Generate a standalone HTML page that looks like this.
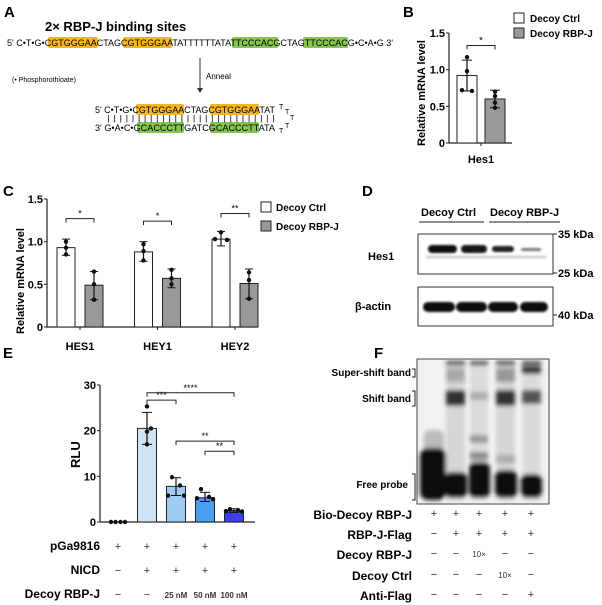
<!DOCTYPE html>
<html><head><meta charset="utf-8"><style>
html,body{margin:0;padding:0;background:#fff;}
svg{display:block;font-family:"Liberation Sans",Arial,sans-serif;}
.b{font-weight:bold;}
</style></head><body>
<svg id="fig" width="602" height="605" viewBox="0 0 602 605" xmlns="http://www.w3.org/2000/svg">
<defs>
<filter id="blur2" x="-50%" y="-50%" width="200%" height="200%"><feGaussianBlur stdDeviation="2"/></filter>
<filter id="blur1" x="-50%" y="-50%" width="200%" height="200%"><feGaussianBlur stdDeviation="1"/></filter>
</defs>

<!-- Panel A -->
<g>
<text x="4" y="17" font-size="15" class="b">A</text>
<text x="45" y="31" font-size="13" class="b">2× RBP-J binding sites</text>
<rect x="48" y="37" width="50" height="11" rx="2" fill="#f7b51e"/>
<rect x="123" y="37" width="49" height="11" rx="2" fill="#f7b51e"/>
<rect x="232" y="37" width="46" height="11" rx="2" fill="#86c552"/>
<rect x="303" y="37" width="45" height="11" rx="2" fill="#86c552"/>
<text x="7" y="46" font-size="9" textLength="386" lengthAdjust="spacingAndGlyphs">5'  C•T•G•CGTGGGAACTAGCGTGGGAATATTTTTTATATTCCCACGCTAGTTCCCACG•C•A•G  3'</text>
<text x="12" y="82" font-size="7">(• Phosphorothioate)</text>
<line x1="200" y1="58" x2="200" y2="90" stroke="#333" stroke-width="1"/>
<path d="M197,88 L200,93 L203,88 Z" fill="#333"/>
<text x="206" y="79" font-size="8">Anneal</text>
<rect x="136" y="104" width="48" height="11" rx="2" fill="#f7b51e"/>
<rect x="210" y="104" width="49" height="11" rx="2" fill="#f7b51e"/>
<rect x="137" y="122" width="47" height="11" rx="2" fill="#86c552"/>
<rect x="210" y="122" width="49" height="11" rx="2" fill="#86c552"/>
<text x="95" y="113" font-size="9" textLength="180" lengthAdjust="spacingAndGlyphs">5'  C•T•G•CGTGGGAACTAGCGTGGGAATAT</text>
<text x="107" y="121" font-size="8" textLength="168" lengthAdjust="spacingAndGlyphs" fill="#333">|  |  |  | | | | | | | | | | | | | | | | | | | | | | | | |</text>
<text x="95" y="131" font-size="9" textLength="180" lengthAdjust="spacingAndGlyphs">3'  G•A•C•GCACCCTTGATCGCACCCTTATA</text>
<text x="279" y="109" font-size="7">T</text><text x="285" y="114" font-size="7">T</text>
<text x="290" y="120" font-size="7">T</text><text x="285" y="128" font-size="7">T</text><text x="279" y="133" font-size="7">T</text>
</g>

<!-- Panel B -->
<g id="pb">
<text x="403" y="17" font-size="15" class="b">B</text>
<text transform="translate(425,146) rotate(-90)" font-size="11" class="b">Relative mRNA level</text>
<rect x="514" y="13" width="10" height="10" fill="#fff" stroke="#222"/>
<text x="530" y="22" font-size="10" class="b">Decoy Ctrl</text>
<rect x="514" y="28" width="10" height="10" fill="#999" stroke="#222"/>
<text x="530" y="37" font-size="10" class="b">Decoy RBP-J</text>
</g>

<!-- Panel C -->
<g id="pc">
<text x="3" y="196" font-size="15" class="b">C</text>
<text transform="translate(24,334) rotate(-90)" font-size="11" class="b">Relative mRNA level</text>
<rect x="261" y="202" width="10" height="10" fill="#fff" stroke="#222"/>
<text x="276" y="211" font-size="10" class="b">Decoy Ctrl</text>
<rect x="261" y="221" width="10" height="10" fill="#999" stroke="#222"/>
<text x="276" y="230" font-size="10" class="b">Decoy RBP-J</text>
</g>

<!-- Panel D -->
<g>
<text x="362" y="196" font-size="15" class="b">D</text>
<text x="421" y="216" font-size="11" class="b">Decoy Ctrl</text>
<text x="490" y="216" font-size="11" class="b">Decoy RBP-J</text>
<line x1="419" y1="222" x2="484" y2="222" stroke="#222"/>
<line x1="489" y1="222" x2="560" y2="222" stroke="#222"/>
<text x="368" y="260" font-size="11" class="b">Hes1</text>
<text x="355" y="310" font-size="11" class="b">β-actin</text>
<rect x="418" y="234" width="135" height="40" fill="#fff" stroke="#333"/>
<rect x="418" y="287" width="135" height="39" fill="#fff" stroke="#333"/>
<g filter="url(#blur1)">
<rect x="428" y="245" width="29" height="8" rx="4" fill="#111"/>
<rect x="461" y="245" width="26" height="8" rx="4" fill="#151515"/>
<rect x="492" y="246" width="22" height="6" rx="3" fill="#222"/>
<rect x="521" y="248" width="20" height="3" rx="1.5" fill="#777"/>
<rect x="426" y="256" width="120" height="2" fill="#bbb"/>
<rect x="423" y="302" width="32" height="10" rx="5" fill="#111"/>
<rect x="456" y="302" width="31" height="10" rx="5" fill="#111"/>
<rect x="488" y="302" width="30" height="10" rx="5" fill="#111"/>
<rect x="520" y="302" width="28" height="10" rx="5" fill="#111"/>
</g>
<line x1="553" y1="234" x2="557" y2="234" stroke="#222"/>
<line x1="553" y1="273" x2="557" y2="273" stroke="#222"/>
<line x1="553" y1="315" x2="557" y2="315" stroke="#222"/>
<text x="558" y="238" font-size="11" class="b">35 kDa</text>
<text x="558" y="277" font-size="11" class="b">25 kDa</text>
<text x="558" y="319" font-size="11" class="b">40 kDa</text>
</g>

<!-- Panel E -->
<g id="pe">
<text x="3" y="358" font-size="15" class="b">E</text>
<text transform="translate(80,468) rotate(-90)" font-size="13" class="b">RLU</text>
</g>

<!-- Panel F -->
<g id="pf">
<text x="374" y="358" font-size="15" class="b">F</text>
<rect x="417" y="359" width="132" height="145" fill="#f2f2f2" stroke="#444"/>
<g filter="url(#blur2)">
<rect x="424" y="430" width="20" height="70" rx="6" fill="#bbb"/>
<rect x="420" y="448" width="26" height="52" rx="8" fill="#0a0a0a"/>
<rect x="446" y="360" width="19" height="140" fill="#d6d6d6"/>
<rect x="470" y="360" width="18" height="140" fill="#dcdcdc"/>
<rect x="496" y="360" width="19" height="140" fill="#d6d6d6"/>
<rect x="522" y="360" width="19" height="140" fill="#dadada"/>
<rect x="446" y="361" width="19" height="4" fill="#111"/><rect x="470" y="361" width="18" height="4" fill="#111"/>
<rect x="496" y="361" width="19" height="4" fill="#111"/><rect x="522" y="361" width="19" height="4" fill="#111"/>
<rect x="446" y="368" width="19" height="14" fill="#aaa"/><rect x="496" y="368" width="19" height="14" fill="#999"/>
<rect x="522" y="366" width="19" height="8" fill="#333"/>
<rect x="446" y="390" width="19" height="16" fill="#333"/><rect x="496" y="390" width="19" height="16" fill="#333"/>
<rect x="522" y="390" width="19" height="14" fill="#555"/><rect x="470" y="392" width="18" height="8" fill="#aaa"/>
<rect x="470" y="435" width="18" height="8" fill="#999"/><rect x="470" y="452" width="18" height="8" fill="#888"/>
<rect x="496" y="455" width="19" height="8" fill="#aaa"/>
<rect x="445" y="472" width="22" height="26" rx="6" fill="#0a0a0a"/>
<rect x="469" y="462" width="21" height="36" rx="6" fill="#0a0a0a"/>
<rect x="495" y="470" width="22" height="28" rx="6" fill="#0a0a0a"/>
<rect x="521" y="474" width="21" height="24" rx="6" fill="#111"/>
</g>
<g font-size="10" class="b" text-anchor="end">
<text x="411" y="376">Super-shift band</text>
<text x="411" y="402">Shift band</text>
<text x="408" y="488">Free probe</text>
</g>
<path d="M412,369 H415 V377 H412 M412,391 H415 V406 H412 M412,474 H415 V500 H412" fill="none" stroke="#222"/>
</g>

<script>
var NS='http://www.w3.org/2000/svg';
function mk(parent,tag,attrs,txt){var e=document.createElementNS(NS,tag);for(var k in attrs)e.setAttribute(k,attrs[k]);if(txt!==undefined)e.textContent=txt;parent.appendChild(e);return e;}

// Panel B data
var bCategories=['Hes1'];
var bCtrl=[0.92];var bCtrlErr=[[0.71,1.13]];var bCtrlPts=[[1.17,0.98,0.72,0.71]];
var bRbpj=[0.6];var bRbpjErr=[[0.48,0.72]];var bRbpjPts=[[0.7,0.64,0.55,0.48]];
var bTicks=[0,0.5,1.0,1.5];var bTickLabels=['0','0.5','1.0','1.5'];

// Panel C data
var cCategories=['HES1','HEY1','HEY2'];
var cCtrl=[0.93,0.88,1.03];var cCtrlLo=[0.84,0.77,0.95];var cCtrlHi=[1.03,1.0,1.12];
var cCtrlPts=[[1.0,0.93,0.85],[0.97,0.89,0.78],[1.11,1.03,1.02]];
var cRbpj=[0.49,0.57,0.51];var cRbpjLo=[0.32,0.46,0.33];var cRbpjHi=[0.65,0.68,0.68];
var cRbpjPts=[[0.65,0.5,0.32],[0.67,0.57,0.5],[0.64,0.55,0.33]];
var cSig=['*','*','**'];var cSigY=[1.27,1.24,1.33];
var cTicks=[0,0.5,1.0,1.5];var cTickLabels=['0','0.5','1.0','1.5'];

// Panel E data
var eGroups=['g1','g2','g3','g4','g5'];
var eValues=[0,20.5,7.8,5.3,2.5];
var eErrLo=[0,17.0,5.8,4.5,2.1];var eErrHi=[0,24.0,9.7,6.5,2.9];
var ePts=[[0,0,0,0],[25.3,20.5,19.8,17.0],[9.8,8.0,5.8,5.8],[7.2,5.5,5.2,5.0],[2.8,2.6,2.4,2.3]];
var eColors=['#fff','#cfe3f7','#9fcaf2','#4b9df0','#3f3fe8'];
var eTicks=[0,10,20,30];var eTickLabels=['0','10','20','30'];
var eSigLabels=['****','***','**','**'];var eSigFrom=[1,1,2,3];var eSigTo=[4,2,4,4];var eSigY=[28.3,26.7,17.7,15.5];
var eRows=['pGa9816','NICD','Decoy RBP-J'];
var eRowVals=[['+','+','+','+','+'],['−','+','+','+','+'],['−','−','25 nM','50 nM','100 nM']];

// Panel F data
var fRows=['Bio-Decoy RBP-J','RBP-J-Flag','Decoy RBP-J','Decoy Ctrl','Anti-Flag'];
var fVals=[['+','+','+','+','+'],['−','+','+','+','+'],['−','−','10×','−','−'],['−','−','−','10×','−'],['−','−','−','−','+']];

function axisY(g,x,yOf,ticks,labels,fs,name){
  mk(g,'line',{x1:x,y1:yOf(ticks[ticks.length-1]),x2:x,y2:yOf(0),stroke:'#222','stroke-width':1.2});
  ticks.forEach(function(t,i){
    mk(g,'line',{x1:x-3,y1:yOf(t),x2:x,y2:yOf(t),stroke:'#222'});
    var tx=mk(g,'text',{x:x-4,y:yOf(t)+4,'font-size':fs,'font-weight':'bold','text-anchor':'end'},labels[i]);
    
    
  });
}
function dot(g,x,y,r){mk(g,'circle',{cx:x,cy:y,r:r||2.2,fill:'#111'});}
function errbar(g,x,lo,hi,w){mk(g,'line',{x1:x,y1:lo,x2:x,y2:hi,stroke:'#111','stroke-width':1.2});
  mk(g,'line',{x1:x-w,y1:lo,x2:x+w,y2:lo,stroke:'#111'});mk(g,'line',{x1:x-w,y1:hi,x2:x+w,y2:hi,stroke:'#111'});}
function bracket(g,x1,x2,y,lab,fs){mk(g,'path',{d:'M'+x1+','+(y+4)+' V'+y+' H'+x2+' V'+(y+4),fill:'none',stroke:'#222'});
  var t=mk(g,'text',{x:(x1+x2)/2,y:y-2,'font-size':fs,'text-anchor':'middle'},lab);
  
  }

// Panel B
(function(){
  var g=document.getElementById('pb');
  var y0=143,y15=33;function yOf(v){return y0-(v/1.5)*(y0-y15);}
  axisY(g,449,yOf,bTicks,bTickLabels,11,'b-y');
  mk(g,'line',{x1:449,y1:y0,x2:512,y2:y0,stroke:'#222','stroke-width':1.2});
  bCategories.forEach(function(c,i){
    var cx1=467,cx2=495,w=20;
    var r1=mk(g,'rect',{x:cx1-w/2,y:yOf(bCtrl[i]),width:w,height:y0-yOf(bCtrl[i]),fill:'#fff',stroke:'#222'});
    
    
    var r2=mk(g,'rect',{x:cx2-w/2,y:yOf(bRbpj[i]),width:w,height:y0-yOf(bRbpj[i]),fill:'#999',stroke:'#222'});
    
    
    errbar(g,cx1,yOf(bCtrlErr[i][0]),yOf(bCtrlErr[i][1]),5);
    errbar(g,cx2,yOf(bRbpjErr[i][0]),yOf(bRbpjErr[i][1]),5);
    var o=[0,0,-5,5];
    bCtrlPts[i].forEach(function(v,j){dot(g,cx1+o[j],yOf(v));});
    bRbpjPts[i].forEach(function(v){dot(g,cx2,yOf(v));});
    mk(g,'line',{x1:481,y1:y0,x2:481,y2:y0+3,stroke:'#222'});
    var t=mk(g,'text',{x:481,y:163,'font-size':11,'font-weight':'bold','text-anchor':'middle'},c);
    
    
    bracket(g,467,495,yOf(1.33),'*',10);
  });
})();

// Panel C
(function(){
  var g=document.getElementById('pc');
  var y0=327,y15=199;function yOf(v){return y0-(v/1.5)*(y0-y15);}
  axisY(g,47,yOf,cTicks,cTickLabels,11,'c-y');
  mk(g,'line',{x1:47,y1:y0,x2:258,y2:y0,stroke:'#222','stroke-width':1.2});
  var w=18;
  cCategories.forEach(function(c,i){
    var gc=80+i*77.5,x1=gc-14,x2=gc+14;
    var r1=mk(g,'rect',{x:x1-w/2,y:yOf(cCtrl[i]),width:w,height:y0-yOf(cCtrl[i]),fill:'#fff',stroke:'#222'});
    
    
    var r2=mk(g,'rect',{x:x2-w/2,y:yOf(cRbpj[i]),width:w,height:y0-yOf(cRbpj[i]),fill:'#999',stroke:'#222'});
    
    
    errbar(g,x1,yOf(cCtrlLo[i]),yOf(cCtrlHi[i]),4);
    errbar(g,x2,yOf(cRbpjLo[i]),yOf(cRbpjHi[i]),4);
    var oc=(i==2)?[0,-6,6]:[0,0,0];
    cCtrlPts[i].forEach(function(v,j){dot(g,x1+oc[j],yOf(v));});
    cRbpjPts[i].forEach(function(v){dot(g,x2,yOf(v));});
    mk(g,'line',{x1:gc,y1:y0,x2:gc,y2:y0+3,stroke:'#222'});
    var t=mk(g,'text',{x:gc,y:350,'font-size':11,'font-weight':'bold','text-anchor':'middle'},c);
    
    
    bracket(g,x1,x2,yOf(cSigY[i]),cSig[i],9);
  });
})();

// Panel E
(function(){
  var g=document.getElementById('pe');
  var y0=522,y30=385;function yOf(v){return y0-(v/30)*(y0-y30);}
  function xOf(i){return 118+i*29;}
  axisY(g,100,yOf,eTicks,eTickLabels,11,'e-y');
  mk(g,'line',{x1:100,y1:y0,x2:255,y2:y0,stroke:'#222','stroke-width':1.2});
  var w=19;
  eGroups.forEach(function(gname,i){
    var cx=xOf(i);
    if(eValues[i]>0){
      var r=mk(g,'rect',{x:cx-w/2,y:yOf(eValues[i]),width:w,height:y0-yOf(eValues[i]),fill:eColors[i],stroke:'#222'});
      
      
      errbar(g,cx,yOf(eErrLo[i]),yOf(eErrHi[i]),5);
    }
    var o=[-4,4,-8,8];
    if(i==0)o=[-7,-2.5,2.5,7];
    if(i==1)o=[0,4,0,0];
    ePts[i].forEach(function(v,j){dot(g,cx+o[j],yOf(v));});
  });
  eSigLabels.forEach(function(l,k){bracket(g,xOf(eSigFrom[k]),xOf(eSigTo[k]),yOf(eSigY[k]),l,9);});
  var rowY=[550,574,598];
  eRows.forEach(function(r,k){
    var t=mk(g,'text',{x:100,y:rowY[k],'font-size':12,'font-weight':'bold','text-anchor':'end'},r);
    
    
    eRowVals[k].forEach(function(v,i){
      var s=mk(g,'text',{x:xOf(i),y:rowY[k],'font-size':v.length>1?8:11,'font-weight':v.length>1?'bold':'normal','text-anchor':'middle',fill:'#333'},v);
      
      
    });
  });
})();

// Panel F rows
(function(){
  var g=document.getElementById('pf');
  var lanes=[434,456,479,505,531];var rowY=[519,539,559,580,600];
  fRows.forEach(function(r,k){
    var t=mk(g,'text',{x:412,y:rowY[k],'font-size':12,'font-weight':'bold','text-anchor':'end'},r);
    
    
    fVals[k].forEach(function(v,i){
      var s=mk(g,'text',{x:lanes[i],y:rowY[k]-2,'font-size':v.length>1?8:11,'text-anchor':'middle',fill:'#333'},v);
      
      
    });
  });
})();
</script>
</svg>
</body></html>
